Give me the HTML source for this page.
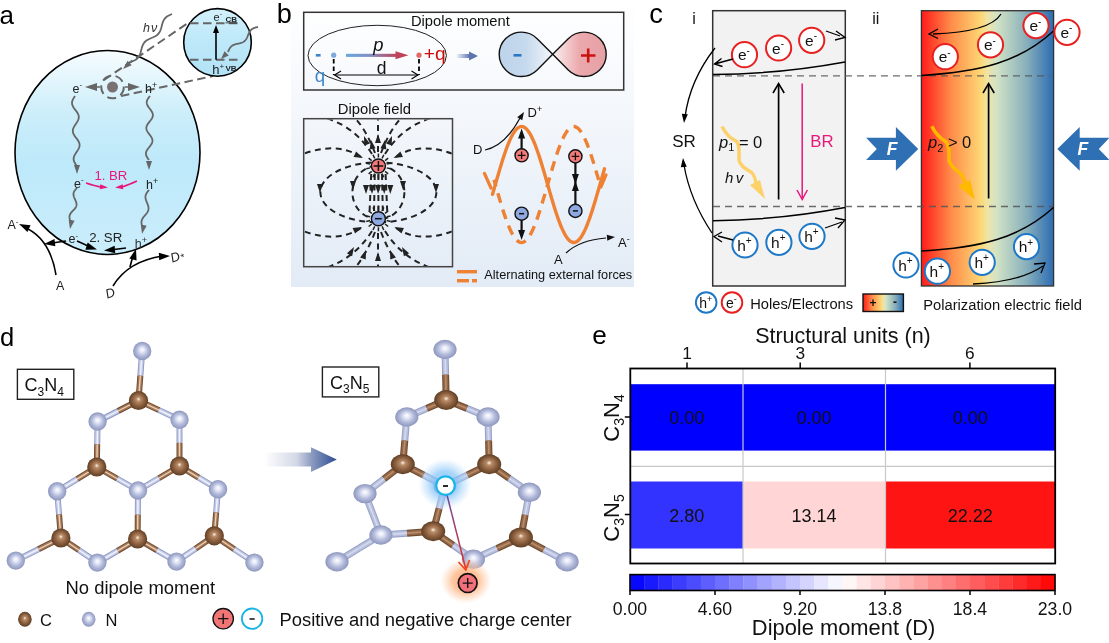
<!DOCTYPE html><html><head><meta charset="utf-8"><style>html,body{margin:0;padding:0;background:#fff;width:1109px;height:643px;overflow:hidden}svg{display:block;will-change:transform}text{font-family:"Liberation Sans", sans-serif}</style></head><body>
<svg width="1109" height="643" viewBox="0 0 1109 643">
<defs>
<linearGradient id="gA" x1="0" y1="0" x2="0" y2="1">
 <stop offset="0" stop-color="#f7fcfe"/><stop offset="0.3" stop-color="#cdeefa"/><stop offset="0.55" stop-color="#bde9fa"/><stop offset="1" stop-color="#cbedfb"/></linearGradient>
<linearGradient id="gInset" x1="0" y1="0" x2="0" y2="1">
 <stop offset="0" stop-color="#d2f0fb"/><stop offset="0.5" stop-color="#bde8f9"/><stop offset="1" stop-color="#b2e2f6"/></linearGradient>
<linearGradient id="gB" x1="0" y1="0" x2="0" y2="1">
 <stop offset="0" stop-color="#ffffff"/><stop offset="1" stop-color="#e2ebf6"/></linearGradient>
<linearGradient id="gP" x1="0" y1="0" x2="1" y2="0">
 <stop offset="0" stop-color="#6aa7dc"/><stop offset="0.45" stop-color="#7f8fc4"/><stop offset="1" stop-color="#c0425a"/></linearGradient>
<linearGradient id="gSmall" x1="0" y1="0" x2="1" y2="0">
 <stop offset="0" stop-color="#e8edf6"/><stop offset="1" stop-color="#5d74b0"/></linearGradient>
<linearGradient id="gLobeL" x1="0" y1="0" x2="1" y2="0">
 <stop offset="0" stop-color="#bcd3ea"/><stop offset="0.5" stop-color="#c6d9ed"/><stop offset="1" stop-color="#f2f6fb"/></linearGradient>
<linearGradient id="gLobeR" x1="0" y1="0" x2="1" y2="0">
 <stop offset="0" stop-color="#fbf0f0"/><stop offset="0.5" stop-color="#eba9ad"/><stop offset="1" stop-color="#e5a0a4"/></linearGradient>
<linearGradient id="gPol" x1="0" y1="0" x2="1" y2="0">
 <stop offset="0" stop-color="#ff1a1a"/><stop offset="0.22" stop-color="#ff8a48"/><stop offset="0.45" stop-color="#fdd775"/><stop offset="0.5" stop-color="#efe4a6"/><stop offset="0.57" stop-color="#d2e3c6"/><stop offset="0.8" stop-color="#86aebb"/><stop offset="1" stop-color="#2c6cb3"/></linearGradient>
<linearGradient id="gArr" gradientUnits="userSpaceOnUse" x1="447" y1="495" x2="465" y2="568">
 <stop offset="0" stop-color="#6a4aa0"/><stop offset="1" stop-color="#e0302a"/></linearGradient>
<linearGradient id="gBig" x1="0" y1="0" x2="1" y2="0">
 <stop offset="0" stop-color="#ffffff"/><stop offset="0.45" stop-color="#d3d8e6"/><stop offset="0.65" stop-color="#8d9cc0"/><stop offset="1" stop-color="#2c4d94"/></linearGradient>
<radialGradient id="gN" cx="0.5" cy="0.5" r="0.5" fx="0.5" fy="0.42">
 <stop offset="0" stop-color="#ffffff"/><stop offset="0.25" stop-color="#e4e8f6"/><stop offset="0.6" stop-color="#b4bcdc"/><stop offset="1" stop-color="#8d96bc"/></radialGradient>
<radialGradient id="gC" cx="0.5" cy="0.5" r="0.5" fx="0.5" fy="0.42">
 <stop offset="0" stop-color="#fff4e8"/><stop offset="0.22" stop-color="#b88c68"/><stop offset="0.6" stop-color="#8e6241"/><stop offset="1" stop-color="#5e3e24"/></radialGradient>
<radialGradient id="gGlowB" cx="0.5" cy="0.5" r="0.5">
 <stop offset="0" stop-color="#6fb8f8" stop-opacity="0.85"/><stop offset="0.5" stop-color="#86c4f8" stop-opacity="0.7"/><stop offset="0.8" stop-color="#b0d8fa" stop-opacity="0.35"/><stop offset="1" stop-color="#d8ecfd" stop-opacity="0"/></radialGradient>
<radialGradient id="gGlowO" cx="0.5" cy="0.5" r="0.5">
 <stop offset="0" stop-color="#ffa060" stop-opacity="0.9"/><stop offset="0.5" stop-color="#ffb27e" stop-opacity="0.75"/><stop offset="0.8" stop-color="#ffcfae" stop-opacity="0.4"/><stop offset="1" stop-color="#ffe6d6" stop-opacity="0"/></radialGradient>
</defs>
<text x="-0.5" y="23.8" font-size="26" fill="#000" text-anchor="start" >a</text>
<ellipse cx="107.5" cy="152.5" rx="92.5" ry="102" fill="url(#gA)" stroke="#000" stroke-width="1.6"/>
<path d="M104,80 L188,23" stroke="#666" stroke-width="2" stroke-dasharray="8.5,4.5" fill="none"/>
<path d="M121,96 L213,76" stroke="#666" stroke-width="2" stroke-dasharray="8.5,4.5" fill="none"/>
<circle cx="217.5" cy="42.4" r="33.8" fill="url(#gInset)" stroke="#000" stroke-width="1.6"/>
<path d="M190,23.3 L239,23.3 M190,59.8 L239,59.8" stroke="#666" stroke-width="2" stroke-dasharray="8.5,4.5" fill="none"/>
<line x1="216" y1="59.8" x2="216" y2="32" stroke="#000" stroke-width="1.6"/>
<polygon points="216,25 219,33 213,33" fill="#000"/>
<text x="213.5" y="20.5" font-size="11" fill="#222" text-anchor="start" >e<tspan font-size="7" dy="-4.5">-</tspan></text>
<text x="225.5" y="21.5" font-size="8" fill="#222" text-anchor="start" font-weight="bold" text-decoration="underline">CB</text>
<text x="212.3" y="73.5" font-size="13" fill="#222" text-anchor="start" >h<tspan font-size="8" dy="-5">+</tspan></text>
<text x="225.5" y="71" font-size="8" fill="#222" text-anchor="start" font-weight="bold">VB</text>
<path d="M258,27 L257.28,27.15 L256.56,27.31 L255.86,27.48 L255.17,27.67 L254.5,27.89 L253.86,28.13 L253.25,28.41 L252.66,28.73 L252.11,29.08 L251.59,29.48 L251.11,29.91 L250.66,30.39 L250.25,30.91 L249.86,31.47 L249.5,32.05 L249.17,32.67 L248.86,33.32 L248.56,33.98 L248.28,34.65 L248,35.33 L247.72,36.01 L247.44,36.69 L247.14,37.35 L246.83,37.99 L246.5,38.61 L246.14,39.2 L245.75,39.76 L245.34,40.27 L244.89,40.75 L244.41,41.19 L243.89,41.59 L243.34,41.94 L242.75,42.26 L242.14,42.53 L241.5,42.78 L240.83,42.99 L240.14,43.18 L239.44,43.36 L238.72,43.51 L238,43.67 L237.28,43.82 L236.56,43.98 L235.86,44.15 L235.17,44.34 L234.5,44.55 L233.86,44.8 L233.25,45.08 L232.66,45.39 L232.11,45.75 L231.59,46.14 L231.11,46.58 L230.66,47.06 L230.25,47.58 L229.86,48.13 L229.5,48.72 L229.17,49.34 L228.86,49.98 L228.56,50.64 L228.28,51.32 L228,52" stroke="#666" stroke-width="1.8" fill="none"/>
<polygon points="221,59 224.54,51.22 228.78,55.46" fill="#666"/>
<path d="M172,14 L170.92,14.46 L169.86,14.94 L168.83,15.45 L167.85,15.99 L166.94,16.59 L166.09,17.26 L165.33,17.99 L164.64,18.79 L164.04,19.66 L163.52,20.59 L163.07,21.59 L162.68,22.65 L162.34,23.74 L162.04,24.86 L161.75,26 L161.46,27.14 L161.16,28.26 L160.82,29.35 L160.43,30.41 L159.98,31.41 L159.46,32.34 L158.86,33.21 L158.17,34.01 L157.41,34.74 L156.56,35.41 L155.65,36.01 L154.67,36.55 L153.64,37.06 L152.58,37.54 L151.5,38 L150.42,38.46 L149.36,38.94 L148.33,39.45 L147.35,39.99 L146.44,40.59 L145.59,41.26 L144.83,41.99 L144.14,42.79 L143.54,43.66 L143.02,44.59 L142.57,45.59 L142.18,46.65 L141.84,47.74 L141.54,48.86 L141.25,50 L140.96,51.14 L140.66,52.26 L140.32,53.35 L139.93,54.41 L139.48,55.41 L138.96,56.34 L138.36,57.21 L137.67,58.01 L136.91,58.74 L136.06,59.41 L135.15,60.01 L134.17,60.55 L133.14,61.06 L132.08,61.54 L131,62" stroke="#666" stroke-width="1.8" fill="none"/>
<polygon points="123,69 127.64,60.73 131.68,65.17" fill="#666"/>
<text x="143" y="32" font-size="12.5" fill="#333" text-anchor="start" font-style="italic">h<tspan dx="1">ν</tspan></text>
<circle cx="112.5" cy="87" r="11.3" fill="none" stroke="#666" stroke-width="2" stroke-dasharray="9,5"/>
<circle cx="112.5" cy="87" r="5.5" fill="#7a7272"/>
<line x1="100" y1="87" x2="90" y2="87" stroke="#666" stroke-width="1.5"/>
<polygon points="85,87 97,83 97,91" fill="#666"/>
<line x1="125" y1="87" x2="135" y2="87" stroke="#666" stroke-width="1.5"/>
<polygon points="140,87 128,91 128,83" fill="#666"/>
<text x="72.5" y="92.8" font-size="12.5" fill="#222" text-anchor="start" >e<tspan font-size="8" dy="-5.5">-</tspan></text>
<text x="145" y="93" font-size="12.5" fill="#222" text-anchor="start" >h<tspan font-size="9" dy="-5">+</tspan></text>
<path d="M75,96 L74.21,97.19 L73.47,98.38 L72.84,99.56 L72.36,100.75 L72.08,101.92 L72,103.09 L72.14,104.25 L72.5,105.41 L73.04,106.56 L73.73,107.71 L74.54,108.86 L75.4,110 L76.26,111.14 L77.07,112.29 L77.76,113.44 L78.3,114.59 L78.66,115.75 L78.8,116.91 L78.72,118.08 L78.44,119.25 L77.96,120.44 L77.33,121.62 L76.59,122.81 L75.8,124 L75.01,125.19 L74.27,126.38 L73.64,127.56 L73.16,128.75 L72.88,129.92 L72.8,131.09 L72.94,132.25 L73.3,133.41 L73.84,134.56 L74.53,135.71 L75.34,136.86 L76.2,138 L77.06,139.14 L77.87,140.29 L78.56,141.44 L79.1,142.59 L79.46,143.75 L79.6,144.91 L79.52,146.08 L79.24,147.25 L78.76,148.44 L78.13,149.62 L77.39,150.81 L76.6,152 L75.81,153.19 L75.07,154.38 L74.44,155.56 L73.96,156.75 L73.68,157.92 L73.6,159.09 L73.74,160.25 L74.1,161.41 L74.64,162.56 L75.33,163.71 L76.14,164.86 L77,166" stroke="#666" stroke-width="1.8" fill="none"/>
<polygon points="77,174 74,165 80,165" fill="#666"/>
<path d="M150,96 L149.16,97.05 L148.37,98.11 L147.69,99.16 L147.16,100.22 L146.83,101.29 L146.7,102.35 L146.79,103.42 L147.1,104.49 L147.59,105.56 L148.23,106.64 L148.99,107.72 L149.8,108.8 L150.61,109.88 L151.37,110.96 L152.01,112.04 L152.5,113.11 L152.81,114.18 L152.9,115.25 L152.77,116.31 L152.44,117.38 L151.91,118.44 L151.23,119.49 L150.44,120.55 L149.6,121.6 L148.76,122.65 L147.97,123.71 L147.29,124.76 L146.76,125.82 L146.43,126.89 L146.3,127.95 L146.39,129.02 L146.7,130.09 L147.19,131.16 L147.83,132.24 L148.59,133.32 L149.4,134.4 L150.21,135.48 L150.97,136.56 L151.61,137.64 L152.1,138.71 L152.41,139.78 L152.5,140.85 L152.37,141.91 L152.04,142.98 L151.51,144.04 L150.83,145.09 L150.04,146.15 L149.2,147.2 L148.36,148.25 L147.57,149.31 L146.89,150.36 L146.36,151.42 L146.03,152.49 L145.9,153.55 L145.99,154.62 L146.3,155.69 L146.79,156.76 L147.43,157.84 L148.19,158.92 L149,160" stroke="#666" stroke-width="1.8" fill="none"/>
<polygon points="149,170 146,161 152,161" fill="#666"/>
<path d="M77,188 L76.51,188.5 L76.04,189 L75.58,189.5 L75.15,190.01 L74.76,190.53 L74.41,191.05 L74.11,191.58 L73.86,192.12 L73.67,192.67 L73.54,193.23 L73.47,193.8 L73.46,194.39 L73.51,194.98 L73.61,195.58 L73.76,196.19 L73.95,196.81 L74.18,197.44 L74.44,198.07 L74.71,198.7 L75,199.33 L75.29,199.97 L75.56,200.6 L75.82,201.23 L76.05,201.86 L76.24,202.47 L76.39,203.08 L76.49,203.69 L76.54,204.28 L76.53,204.86 L76.46,205.43 L76.33,206 L76.14,206.55 L75.89,207.09 L75.59,207.62 L75.24,208.14 L74.85,208.66 L74.42,209.16 L73.96,209.67 L73.49,210.17 L73,210.67 L72.51,211.17 L72.04,211.67 L71.58,212.17 L71.15,212.68 L70.76,213.19 L70.41,213.72 L70.11,214.25 L69.86,214.79 L69.67,215.34 L69.54,215.9 L69.47,216.47 L69.46,217.05 L69.51,217.65 L69.61,218.25 L69.76,218.86 L69.95,219.48 L70.18,220.1 L70.44,220.73 L70.71,221.37 L71,222" stroke="#666" stroke-width="1.8" fill="none"/>
<polygon points="70,229 68.66,219.61 74.56,220.68" fill="#666"/>
<path d="M149,190 L148.51,190.57 L148.04,191.15 L147.58,191.72 L147.15,192.3 L146.75,192.89 L146.4,193.48 L146.1,194.09 L145.85,194.7 L145.66,195.31 L145.53,195.94 L145.46,196.58 L145.45,197.23 L145.5,197.89 L145.6,198.55 L145.75,199.22 L145.95,199.9 L146.18,200.59 L146.44,201.28 L146.71,201.97 L147,202.67 L147.29,203.36 L147.56,204.05 L147.82,204.74 L148.05,205.43 L148.25,206.11 L148.4,206.78 L148.5,207.45 L148.55,208.1 L148.54,208.75 L148.47,209.39 L148.34,210.02 L148.15,210.64 L147.9,211.25 L147.6,211.85 L147.25,212.44 L146.85,213.03 L146.42,213.61 L145.96,214.19 L145.49,214.76 L145,215.33 L144.51,215.91 L144.04,216.48 L143.58,217.06 L143.15,217.64 L142.75,218.22 L142.4,218.82 L142.1,219.42 L141.85,220.03 L141.66,220.65 L141.53,221.28 L141.46,221.91 L141.45,222.56 L141.5,223.22 L141.6,223.88 L141.75,224.56 L141.95,225.24 L142.18,225.92 L142.44,226.61 L142.71,227.31 L143,228" stroke="#666" stroke-width="1.8" fill="none"/>
<polygon points="142,234 140.82,224.59 146.71,225.76" fill="#666"/>
<text x="74" y="187.5" font-size="12.5" fill="#222" text-anchor="start" >e<tspan font-size="8" dy="-5.5">-</tspan></text>
<text x="146" y="188.5" font-size="12.5" fill="#222" text-anchor="start" >h<tspan font-size="9" dy="-5">+</tspan></text>
<text x="94.51" y="180" font-size="13.15" fill="#e8177a" text-anchor="start" >1. BR</text>
<path d="M86,183 Q95,186 101,187" stroke="#e8177a" stroke-width="1.4" fill="none"/>
<polygon points="108,187.5 99.79,189.19 100.29,184.22" fill="#e8177a"/>
<path d="M137,181 Q128,185 122,187" stroke="#e8177a" stroke-width="1.4" fill="none"/>
<polygon points="115,187.5 122.71,184.22 123.21,189.19" fill="#e8177a"/>
<text x="68.5" y="243.2" font-size="12.5" fill="#222" text-anchor="start" >e<tspan font-size="8" dy="-5.5">-</tspan></text>
<text x="89.14" y="242.3" font-size="13.22" fill="#222" text-anchor="start" >2. SR</text>
<text x="134.8" y="248.3" font-size="12.5" fill="#333" text-anchor="start" >h<tspan font-size="9" dy="-5">+</tspan></text>
<path d="M66,241 L52,243" stroke="#000" stroke-width="1.6"/><polygon points="44,244 54.45,238.91 55.38,246.36" fill="#000"/>
<path d="M77,241 Q84,244 90,247" stroke="#000" stroke-width="1.6" fill="none"/><polygon points="97,249.5 85.38,249.74 87.65,242.59" fill="#000"/>
<path d="M126,248 L110,250" stroke="#000" stroke-width="1.6"/><polygon points="104,250.5 114.65,245.85 115.27,253.32" fill="#000"/>
<path d="M56,275 Q50,238 24,227" stroke="#000" stroke-width="1.6" fill="none"/><polygon points="19,224 30.57,225.14 27.46,231.97" fill="#000"/>
<text x="7.5" y="229" font-size="12.5" fill="#222" text-anchor="start" >A<tspan font-size="8" dy="-5">-</tspan></text>
<text x="56" y="290" font-size="12.5" fill="#222" text-anchor="start" >A</text>
<path d="M113,286 Q128,261 163,256" stroke="#000" stroke-width="1.6" fill="none"/><polygon points="170,256 159.17,260.2 158.85,252.71" fill="#000"/>
<path d="M130,267 Q132,258 135,252" stroke="#000" stroke-width="1.6" fill="none"/><polygon points="136,249 136.58,260.61 129.37,258.55" fill="#000"/>
<g transform="translate(112,297) rotate(-20)"><text x="-5" y="0" font-size="13" fill="#222" text-anchor="start" font-style="italic">D</text></g>
<g transform="translate(177,261) rotate(-20)"><text x="-5" y="0" font-size="13" fill="#222" text-anchor="start" font-style="italic">D</text><text x="5" y="1.5" font-size="10" fill="#222" text-anchor="start" >*</text></g>
<rect x="291" y="0" width="343" height="287" fill="url(#gB)"/>
<text x="276.84" y="22.9" font-size="27.11" fill="#000" text-anchor="start" >b</text>
<rect x="303.7" y="12.3" width="320" height="77.7" fill="none" stroke="#333" stroke-width="1.5"/>
<text x="410.92" y="26.4" font-size="14.71" fill="#111" text-anchor="start" >Dipole moment</text>
<ellipse cx="377.2" cy="55.5" rx="69.2" ry="30.2" fill="none" stroke="#222" stroke-width="1"/>
<rect x="315.8" y="54" width="4.8" height="2.6" fill="#3d86c8"/>
<circle cx="333.7" cy="55.2" r="2.6" fill="#7aaad8"/>
<circle cx="419" cy="55.2" r="2.6" fill="#e06a6a"/>
<rect x="346" y="53.8" width="51" height="3.1" fill="url(#gP)"/>
<polygon points="408.5,55.3 395.5,51.3 395.5,59.3" fill="#c0425a"/>
<text x="373.16" y="50.5" font-size="18.36" fill="#111" text-anchor="start"  font-style="italic">p</text>
<text x="423.84" y="60" font-size="19.12" fill="#cc0a0a" text-anchor="start" >+q</text>
<text x="314.85" y="81.5" font-size="18.67" fill="#3d86c8" text-anchor="start" >q</text>
<path d="M333.7,59 L333.7,75 M419,59 L419,75" stroke="#000" stroke-width="1.8" stroke-dasharray="4.5,3"/>
<line x1="334.5" y1="75" x2="418" y2="75" stroke="#000" stroke-width="1.1"/>
<path d="M341,71 L334.5,75 L341,79 M411.5,71 L418,75 L411.5,79" stroke="#000" stroke-width="1.1" fill="none"/>
<text x="376.8" y="74.2" font-size="17.5" fill="#111" text-anchor="start" >d</text>
<rect x="457" y="54" width="13" height="4" fill="url(#gSmall)"/>
<polygon points="478,56 469,51.5 469,60.5" fill="#5d74b0"/>
<path d="M552.7,54.3 L537.15,69.95 A22.2,22.2 0 1 1 537.15,38.65 Z" fill="url(#gLobeL)" stroke="#111" stroke-width="1.4"/>
<path d="M552.7,54.3 L568.25,69.95 A22.2,22.2 0 1 0 568.25,38.65 Z" fill="url(#gLobeR)" stroke="#111" stroke-width="1.4"/>
<rect x="513.5" y="54" width="8" height="2.6" fill="#2a78c4"/>
<path d="M581,55.5 L595.5,55.5 M588.2,48.5 L588.2,62.5" stroke="#cc1111" stroke-width="2.6"/>
<text x="337.71" y="113.7" font-size="14.81" fill="#111" text-anchor="start" >Dipole field</text>
<rect x="303.7" y="118.7" width="148.8" height="148" fill="none" stroke="#444" stroke-width="1.5"/>
<clipPath id="cpF"><rect x="304.5" y="119.5" width="147.2" height="146.4"/></clipPath>
<g clip-path="url(#cpF)" stroke="#222" stroke-width="2" fill="none" stroke-dasharray="6,4.5">
<ellipse cx="378.4" cy="192.35" rx="58" ry="30" />
<ellipse cx="378.4" cy="192.35" rx="26" ry="27" />
<path d="M361,157 C345,146 320,144 290,160" />
<path d="M396,157 C411,146 436,144 466,160" />
<path d="M361,228 C345,239 320,241 290,225" />
<path d="M396,228 C411,239 436,241 466,225" />
<path d="M378,152 L378,119" />
<path d="M372,154 C362,138 348,125 326,118" />
<path d="M385,154 C395,138 409,125 431,118" />
<path d="M375,153 C370,140 364,128 355,118" />
<path d="M381,153 C386,140 392,128 401,118" />
<path d="M378,233 L378,267" />
<path d="M372,231 C362,247 348,260 326,268" />
<path d="M385,231 C395,247 409,260 431,268" />
<path d="M375,232 C370,245 364,257 355,268" />
<path d="M381,232 C386,245 392,257 401,268" />
<path d="M371.2,174 L369.6,211" />
<path d="M374.8,174 L374,211" />
<path d="M378.4,174 L378.4,211" />
<path d="M382,174 L382.8,211" />
<path d="M385.6,174 L387.2,211" />
</g>
<path d="M386.69,167.89 L390.59,168.78 M385.05,171.3 L388.17,173.79 M382.09,173.66 L383.82,177.26 M378.4,174.5 L378.4,178.5 M374.71,173.66 L372.98,177.26 M371.75,171.3 L368.63,173.79 M370.11,167.89 L366.21,168.78 M370.11,164.11 L366.21,163.22 M371.75,160.7 L368.63,158.21 M374.71,158.34 L372.98,154.74 M378.4,157.5 L378.4,153.5 M382.09,158.34 L383.82,154.74 M385.05,160.7 L388.17,158.21 M386.69,164.11 L390.59,163.22 M386.69,220.59 L390.59,221.48 M385.05,224 L388.17,226.49 M382.09,226.36 L383.82,229.96 M378.4,227.2 L378.4,231.2 M374.71,226.36 L372.98,229.96 M371.75,224 L368.63,226.49 M370.11,220.59 L366.21,221.48 M370.11,216.81 L366.21,215.92 M371.75,213.4 L368.63,210.91 M374.71,211.04 L372.98,207.44 M378.4,210.2 L378.4,206.2 M382.09,211.04 L383.82,207.44 M385.05,213.4 L388.17,210.91 M386.69,216.81 L390.59,215.92" stroke="#222" stroke-width="1.5"/>
<polygon points="366,194 363,185 369,185" fill="#222"/>
<polygon points="372,194 369,185 375,185" fill="#222"/>
<polygon points="378.1,194 375.1,185 381.1,185" fill="#222"/>
<polygon points="384.2,194 381.2,185 387.2,185" fill="#222"/>
<polygon points="390.3,194 387.3,185 393.3,185" fill="#222"/>
<polygon points="320,193 317,184 323,184" fill="#222"/>
<polygon points="436,193 433,184 439,184" fill="#222"/>
<polygon points="353,190 350,181 356,181" fill="#222"/>
<polygon points="403,190 400,181 406,181" fill="#222"/>
<polygon points="363,158 353.58,156.92 356.11,151.48" fill="#222"/>
<polygon points="393.5,158 400.39,151.48 402.92,156.92" fill="#222"/>
<polygon points="362,227 355.11,233.52 352.58,228.08" fill="#222"/>
<polygon points="394.5,227 403.92,228.08 401.39,233.52" fill="#222"/>
<polygon points="364,136 369.9,143.43 364.26,145.48" fill="#222"/>
<polygon points="378,134 381,143 375,143" fill="#222"/>
<polygon points="392,136 391.74,145.48 386.1,143.43" fill="#222"/>
<polygon points="371,140 375.52,148.34 369.61,149.38" fill="#222"/>
<polygon points="385,140 386.39,149.38 380.48,148.34" fill="#222"/>
<polygon points="366,250 365.74,259.48 360.1,257.43" fill="#222"/>
<polygon points="378,252 381,261 375,261" fill="#222"/>
<polygon points="390,250 395.9,257.43 390.26,259.48" fill="#222"/>
<polygon points="354,247 352.1,256.29 346.9,253.29" fill="#222"/>
<polygon points="402,247 409.1,253.29 403.9,256.29" fill="#222"/>
<circle cx="378.4" cy="166" r="7" fill="#f47979" stroke="#111" stroke-width="1.4"/>
<path d="M373.5,166 L383.3,166 M378.4,161 L378.4,171" stroke="#111" stroke-width="1.5"/>
<circle cx="378.4" cy="218.7" r="7" fill="#8ea8e0" stroke="#111" stroke-width="1.4"/>
<path d="M375,218.7 L381.8,218.7" stroke="#111" stroke-width="1.5"/>
<path d="M492.5,194.38 L493.62,190.52 L494.74,186.62 L495.86,182.72 L496.98,178.83 L498.1,174.96 L499.22,171.14 L500.34,167.37 L501.46,163.69 L502.58,160.1 L503.7,156.61 L504.82,153.26 L505.94,150.04 L507.06,146.98 L508.18,144.1 L509.3,141.39 L510.42,138.88 L511.54,136.57 L512.66,134.49 L513.78,132.63 L514.9,131 L516.02,129.61 L517.14,128.48 L518.26,127.59 L519.38,126.97 L520.5,126.6 L521.62,126.5 L522.74,126.66 L523.86,127.08 L524.98,127.76 L526.1,128.7 L527.22,129.89 L528.34,131.33 L529.46,133 L530.58,134.92 L531.7,137.05 L532.82,139.4 L533.94,141.95 L535.06,144.7 L536.18,147.63 L537.3,150.72 L538.42,153.97 L539.54,157.35 L540.66,160.86 L541.78,164.47 L542.9,168.17 L544.02,171.95 L545.14,175.79 L546.26,179.66 L547.38,183.56 L548.5,187.46 L549.62,191.35 L550.74,195.2 L551.86,199.01 L552.98,202.75 L554.1,206.41 L555.22,209.97 L556.34,213.42 L557.46,216.73 L558.58,219.9 L559.7,222.91 L560.82,225.75 L561.94,228.39 L563.06,230.84 L564.18,233.08 L565.3,235.1 L566.42,236.89 L567.54,238.45 L568.66,239.76 L569.78,240.82 L570.9,241.62 L572.02,242.17 L573.14,242.45 L574.26,242.48 L575.38,242.24 L576.5,241.74 L577.62,240.98 L578.74,239.97 L579.86,238.7 L580.98,237.19 L582.1,235.44 L583.22,233.46 L584.34,231.26 L585.46,228.85 L586.58,226.23 L587.7,223.43 L588.82,220.45 L589.94,217.31 L591.06,214.02 L592.18,210.6 L593.3,207.06 L594.42,203.41 L595.54,199.69 L596.66,195.89 L597.78,192.04 L598.9,188.16 L600.02,184.26 L601.14,180.36 L602.26,176.48 L603.38,172.63 L604.5,168.84" stroke="#ee8133" stroke-width="3.4" fill="none" stroke-linecap="round"/>
<path d="M494,179.8 L495.06,183.49 L496.12,187.18 L497.18,190.86 L498.24,194.52 L499.3,198.13 L500.36,201.69 L501.42,205.18 L502.48,208.59 L503.54,211.9 L504.6,215.09 L505.66,218.17 L506.72,221.1 L507.78,223.89 L508.84,226.52 L509.9,228.98 L510.96,231.26 L512.02,233.35 L513.08,235.24 L514.14,236.92 L515.2,238.4 L516.26,239.65 L517.32,240.68 L518.38,241.48 L519.44,242.06 L520.5,242.4 L521.56,242.5 L522.62,242.37 L523.68,242 L524.74,241.41 L525.8,240.58 L526.86,239.52 L527.92,238.24 L528.98,236.74 L530.04,235.03 L531.1,233.12 L532.16,231.01 L533.22,228.71 L534.28,226.23 L535.34,223.58 L536.4,220.78 L537.46,217.83 L538.52,214.74 L539.58,211.53 L540.64,208.21 L541.7,204.79 L542.76,201.29 L543.82,197.73 L544.88,194.11 L545.94,190.45 L547,186.76 L548.06,183.07 L549.12,179.39 L550.18,175.72 L551.24,172.09 L552.3,168.51 L553.36,164.99 L554.42,161.56 L555.48,158.22 L556.54,154.98 L557.6,151.86 L558.66,148.88 L559.72,146.04 L560.78,143.35 L561.84,140.83 L562.9,138.49 L563.96,136.34 L565.02,134.38 L566.08,132.63 L567.14,131.08 L568.2,129.75 L569.26,128.64 L570.32,127.76 L571.38,127.11 L572.44,126.69 L573.5,126.51 L574.56,126.56 L575.62,126.85 L576.68,127.37 L577.74,128.12 L578.8,129.1 L579.86,130.3 L580.92,131.72 L581.98,133.36 L583.04,135.21 L584.1,137.25 L585.16,139.49 L586.22,141.91 L587.28,144.5 L588.34,147.25 L589.4,150.16 L590.46,153.2 L591.52,156.37 L592.58,159.65 L593.64,163.04 L594.7,166.51 L595.76,170.06 L596.82,173.66 L597.88,177.31 L598.94,180.98 L600,184.67" stroke="#ee8133" stroke-width="3.4" fill="none" stroke-dasharray="10,7" stroke-dashoffset="3"/>
<path d="M484.5,173.5 L491,188 M601,187 L606,175" stroke="#ee8133" stroke-width="3.2" stroke-linecap="round"/>
<line x1="521.6" y1="149" x2="521.6" y2="136" stroke="#111" stroke-width="2.2"/><polygon points="521.6,128.5 525.1,138.5 518.1,138.5" fill="#111"/>
<line x1="521.6" y1="220" x2="521.6" y2="232" stroke="#111" stroke-width="2.2"/><polygon points="521.6,240 518.1,230 525.1,230" fill="#111"/>
<line x1="575.4" y1="162" x2="575.4" y2="205" stroke="#111" stroke-width="2.2"/><polygon points="575.4,184 571.9,174 578.9,174" fill="#111"/><polygon points="575.4,181 578.9,191 571.9,191" fill="#111"/>
<circle cx="521.6" cy="155.3" r="6.6" fill="#f47979" stroke="#111" stroke-width="1.4"/><path d="M517.8,155.3 L525.4,155.3 M521.6,151.5 L521.6,159.1" stroke="#111" stroke-width="1.3"/>
<circle cx="521.6" cy="213.7" r="6.6" fill="#8ea8e0" stroke="#111" stroke-width="1.4"/><path d="M519.1,213.7 L524.1,213.7" stroke="#111" stroke-width="1.5"/>
<circle cx="575.4" cy="156.4" r="6.6" fill="#f47979" stroke="#111" stroke-width="1.4"/><path d="M571.6,156.4 L579.2,156.4 M575.4,152.6 L575.4,160.2" stroke="#111" stroke-width="1.3"/>
<circle cx="575.4" cy="210.9" r="6.6" fill="#8ea8e0" stroke="#111" stroke-width="1.4"/><path d="M572.9,210.9 L577.9,210.9" stroke="#111" stroke-width="1.5"/>
<text x="473" y="153.5" font-size="13" fill="#111" text-anchor="start" >D</text>
<text x="527.5" y="116.5" font-size="13" fill="#111" text-anchor="start" >D<tspan font-size="9" dy="-5">+</tspan></text>
<path d="M485,150 Q505,146 520,118" stroke="#111" stroke-width="1.2" fill="none"/><polygon points="524,112 522.24,120.36 517.17,117.14" fill="#111"/>
<text x="554" y="264" font-size="13" fill="#111" text-anchor="start" >A</text>
<text x="618" y="246.5" font-size="13" fill="#111" text-anchor="start" >A<tspan font-size="9" dy="-5">-</tspan></text>
<path d="M566,253 Q580,240 606,238" stroke="#111" stroke-width="1.2" fill="none"/><polygon points="615,237 607.3,240.71 606.76,234.74" fill="#111"/>
<rect x="457" y="270" width="20" height="3.4" fill="#ee8133"/>
<rect x="457" y="279" width="12" height="3.4" fill="#ee8133"/><rect x="472" y="279" width="5" height="3.4" fill="#ee8133"/>
<text x="484.3" y="278.8" font-size="12.74" fill="#111" text-anchor="start" >Alternating external forces</text>
<text x="649.21" y="23.2" font-size="27.36" fill="#000" text-anchor="start" >c</text>
<text x="692.3" y="23.8" font-size="16" fill="#111" text-anchor="start" >i</text>
<text x="872.3" y="23.8" font-size="16" fill="#111" text-anchor="start" >ii</text>
<rect x="712.7" y="10.7" width="132.6" height="275.3" fill="#f2f2f2" stroke="#333" stroke-width="1.5"/>
<rect x="921.4" y="10.7" width="132.2" height="275.3" fill="url(#gPol)" stroke="#333" stroke-width="1.3"/>
<path d="M713,75.9 L1050,75.9 M713,206.5 L1053,206.5" stroke="#555" stroke-width="1.3" stroke-dasharray="7,5" opacity="0.85"/>
<path d="M713,74.6 Q780,74 845,62" stroke="#000" stroke-width="1.5" fill="none"/>
<path d="M713,220.7 Q780,220 845,207.5" stroke="#000" stroke-width="1.5" fill="none"/>
<path d="M921.5,75.5 C980,72 1020,62 1053.5,31" stroke="#000" stroke-width="1.5" fill="none"/>
<path d="M921.5,251 C980,248 1020,238 1053.5,207.5" stroke="#000" stroke-width="1.5" fill="none"/>
<circle cx="744.5" cy="54.7" r="12.6" fill="#fff" stroke="#e8201f" stroke-width="2"/><text x="737.9" y="60.2" font-size="15.5" fill="#111" text-anchor="start" >e<tspan font-size="10" dy="-6.5">-</tspan></text>
<circle cx="778.6" cy="48" r="12.6" fill="#fff" stroke="#e8201f" stroke-width="2"/><text x="772" y="53.5" font-size="15.5" fill="#111" text-anchor="start" >e<tspan font-size="10" dy="-6.5">-</tspan></text>
<circle cx="811.7" cy="40.3" r="12.6" fill="#fff" stroke="#e8201f" stroke-width="2"/><text x="805.1" y="45.8" font-size="15.5" fill="#111" text-anchor="start" >e<tspan font-size="10" dy="-6.5">-</tspan></text>
<circle cx="945.3" cy="56.7" r="12.6" fill="#fff" stroke="#e8201f" stroke-width="2"/><text x="938.7" y="62.2" font-size="15.5" fill="#111" text-anchor="start" >e<tspan font-size="10" dy="-6.5">-</tspan></text>
<circle cx="990.5" cy="44.8" r="12.6" fill="#fff" stroke="#e8201f" stroke-width="2"/><text x="983.9" y="50.3" font-size="15.5" fill="#111" text-anchor="start" >e<tspan font-size="10" dy="-6.5">-</tspan></text>
<circle cx="1036" cy="25.6" r="12.6" fill="#fff" stroke="#e8201f" stroke-width="2"/><text x="1029.4" y="31.1" font-size="15.5" fill="#111" text-anchor="start" >e<tspan font-size="10" dy="-6.5">-</tspan></text>
<circle cx="1067" cy="32.3" r="12.6" fill="#fff" stroke="#e8201f" stroke-width="2"/><text x="1060.4" y="37.8" font-size="15.5" fill="#111" text-anchor="start" >e<tspan font-size="10" dy="-6.5">-</tspan></text>
<circle cx="745" cy="245" r="12.6" fill="#fff" stroke="#1d78c8" stroke-width="2"/><text x="737.2" y="250.5" font-size="15.5" fill="#111" text-anchor="start" >h<tspan font-size="10" dy="-6.5">+</tspan></text>
<circle cx="778.9" cy="242.4" r="12.6" fill="#fff" stroke="#1d78c8" stroke-width="2"/><text x="771.1" y="247.9" font-size="15.5" fill="#111" text-anchor="start" >h<tspan font-size="10" dy="-6.5">+</tspan></text>
<circle cx="812" cy="236.3" r="12.6" fill="#fff" stroke="#1d78c8" stroke-width="2"/><text x="804.2" y="241.8" font-size="15.5" fill="#111" text-anchor="start" >h<tspan font-size="10" dy="-6.5">+</tspan></text>
<circle cx="906" cy="265" r="12.6" fill="#fff" stroke="#1d78c8" stroke-width="2"/><text x="898.2" y="270.5" font-size="15.5" fill="#111" text-anchor="start" >h<tspan font-size="10" dy="-6.5">+</tspan></text>
<circle cx="937.4" cy="271.2" r="12.6" fill="#fff" stroke="#1d78c8" stroke-width="2"/><text x="929.6" y="276.7" font-size="15.5" fill="#111" text-anchor="start" >h<tspan font-size="10" dy="-6.5">+</tspan></text>
<circle cx="982.2" cy="262.3" r="12.6" fill="#fff" stroke="#1d78c8" stroke-width="2"/><text x="974.4" y="267.8" font-size="15.5" fill="#111" text-anchor="start" >h<tspan font-size="10" dy="-6.5">+</tspan></text>
<circle cx="1026.5" cy="246.6" r="12.6" fill="#fff" stroke="#1d78c8" stroke-width="2"/><text x="1018.7" y="252.1" font-size="15.5" fill="#111" text-anchor="start" >h<tspan font-size="10" dy="-6.5">+</tspan></text>
<path d="M733,59 L714.5,64 M721.5,58.5 L714.5,64 L722.5,66.5" stroke="#000" stroke-width="1.4" fill="none"/>
<path d="M826,31 L840,36" stroke="#000" stroke-width="1.3" fill="none"/><path d="M836,31 L845,37.5 L835,40" stroke="#000" stroke-width="1.3" fill="none"/>
<path d="M733,240 L718,236" stroke="#000" stroke-width="1.3"/><path d="M722,232 L714,236.5 L722,242" stroke="#000" stroke-width="1.3" fill="none"/>
<path d="M825,228 L842,222" stroke="#000" stroke-width="1.3" fill="none"/><path d="M835,218 L845,220 L838,228" stroke="#000" stroke-width="1.3" fill="none"/>
<path d="M715,48 Q690,80 685,117" stroke="#000" stroke-width="1.3" fill="none"/><polygon points="684,123 681.83,113.77 687.8,114.31" fill="#000"/>
<path d="M712,233 Q690,200 684,165" stroke="#000" stroke-width="1.3" fill="none"/><polygon points="683,158 686.74,166.72 680.76,167.22" fill="#000"/>
<text x="672.14" y="147.2" font-size="16.99" fill="#111" text-anchor="start" >SR</text>
<line x1="778.6" y1="199.5" x2="778.6" y2="84" stroke="#000" stroke-width="1.7"/><path d="M773,93 L778.6,83.5 L784.2,93" stroke="#000" stroke-width="1.6" fill="none"/>
<line x1="802.2" y1="83.5" x2="802.2" y2="199" stroke="#e8177a" stroke-width="1.5"/><path d="M797,190 L802.2,199.5 L807.4,190" stroke="#e8177a" stroke-width="1.5" fill="none"/>
<text x="810.36" y="147.2" font-size="16.75" fill="#e8177a" text-anchor="start" >BR</text>
<line x1="988.6" y1="198.5" x2="988.6" y2="84" stroke="#000" stroke-width="1.7"/><path d="M983,93 L988.6,83.5 L994.2,93" stroke="#000" stroke-width="1.6" fill="none"/>
<path d="M722,126.5 C726,134 731,139 736,141 C740,144 739,152 739,160 C740,166 746,169 751,172 C756,176 756,183 757,189" stroke="#fdd16a" stroke-width="3.5" fill="none"/>
<polygon points="765,199 750,185 760,180" fill="#fdd16a"/>
<text x="719" y="147.8" font-size="16.5" fill="#111" text-anchor="start" ><tspan font-style="italic">p</tspan><tspan font-size="11" dy="3.5">1</tspan><tspan dy="-3.5"> = 0</tspan></text>
<text x="725" y="183.2" font-size="15" fill="#111" text-anchor="start" font-style="italic">h<tspan dx="2.5">v</tspan></text>
<path d="M931.9,126.3 C935,133 940,138 945,141 C950,145 949,153 949,160 C950,167 957,170 961,174 C965,179 965,184 966,189" stroke="#ffba00" stroke-width="3.5" fill="none"/>
<polygon points="975,199.4 958,186 970,180" fill="#ffba00"/>
<text x="928" y="148.1" font-size="16.5" fill="#111" text-anchor="start" ><tspan font-style="italic">p</tspan><tspan font-size="11" dy="3.5">2</tspan><tspan dy="-3.5"> &gt; 0</tspan></text>
<path d="M1001,14 Q990,32 933,34" stroke="#000" stroke-width="1.3" fill="none"/><path d="M938,29 L929,34 L938,38.5" stroke="#000" stroke-width="1.3" fill="none"/>
<path d="M973,284 Q1020,282 1043,266" stroke="#000" stroke-width="1.3" fill="none"/><path d="M1034,264 L1045,263 L1041,273" stroke="#000" stroke-width="1.3" fill="none"/>
<polygon points="866.1,137.7 895.9,137.7 895.9,127 918.3,148.9 895.9,170.8 895.9,160.1 866.1,160.1 876.8,148.9" fill="#2f70b5"/>
<text x="886.8" y="155.2" font-size="17.5" fill="#fff" text-anchor="start" font-style="italic" font-weight="bold">F</text>
<polygon points="1109.5,137.7 1079.7,137.7 1079.7,127 1057.3,148.9 1079.7,170.8 1079.7,160.1 1109.5,160.1 1098.8,148.9" fill="#2f70b5"/>
<text x="1077.5" y="155.2" font-size="17.5" fill="#fff" text-anchor="start" font-style="italic" font-weight="bold">F</text>
<circle cx="706.2" cy="302.5" r="10.3" fill="#fff" stroke="#1d78c8" stroke-width="1.9"/>
<text x="699.3" y="307.5" font-size="14" fill="#111" text-anchor="start" >h<tspan font-size="9" dy="-5.5">+</tspan></text>
<circle cx="732" cy="302.5" r="10.3" fill="#fff" stroke="#e8201f" stroke-width="1.9"/>
<text x="726" y="307.5" font-size="14" fill="#111" text-anchor="start" >e<tspan font-size="9" dy="-5.5">-</tspan></text>
<text x="750.22" y="308.8" font-size="14.69" fill="#111" text-anchor="start" >Holes/Electrons</text>
<rect x="863" y="294" width="40.4" height="17.5" fill="url(#gPol)" stroke="#111" stroke-width="1.4"/>
<text x="869.5" y="307" font-size="12" fill="#111" text-anchor="start" font-weight="bold">+</text>
<text x="893" y="306" font-size="12" fill="#111" text-anchor="start" font-weight="bold">-</text>
<text x="923.22" y="309.8" font-size="14.72" fill="#111" text-anchor="start" >Polarization electric field</text>
<text x="-0.12" y="345.9" font-size="25.56" fill="#000" text-anchor="start" >d</text>
<line x1="142.2" y1="351" x2="140.35" y2="375.75" stroke="#8f98c0" stroke-width="6"/><line x1="142.2" y1="351" x2="140.35" y2="375.75" stroke="#c3cae8" stroke-width="4.2"/><line x1="142.2" y1="351" x2="140.35" y2="375.75" stroke="#f2f4fc" stroke-width="1.38"/><line x1="140.35" y1="375.75" x2="138.5" y2="400.5" stroke="#6e4a2e" stroke-width="6"/><line x1="140.35" y1="375.75" x2="138.5" y2="400.5" stroke="#a47654" stroke-width="4.2"/><line x1="140.35" y1="375.75" x2="138.5" y2="400.5" stroke="#e8d2bc" stroke-width="1.38"/><line x1="138.5" y1="400.5" x2="118.05" y2="411" stroke="#6e4a2e" stroke-width="6"/><line x1="138.5" y1="400.5" x2="118.05" y2="411" stroke="#a47654" stroke-width="4.2"/><line x1="138.5" y1="400.5" x2="118.05" y2="411" stroke="#e8d2bc" stroke-width="1.38"/><line x1="118.05" y1="411" x2="97.6" y2="421.5" stroke="#8f98c0" stroke-width="6"/><line x1="118.05" y1="411" x2="97.6" y2="421.5" stroke="#c3cae8" stroke-width="4.2"/><line x1="118.05" y1="411" x2="97.6" y2="421.5" stroke="#f2f4fc" stroke-width="1.38"/><line x1="138.5" y1="400.5" x2="159" y2="410.15" stroke="#6e4a2e" stroke-width="6"/><line x1="138.5" y1="400.5" x2="159" y2="410.15" stroke="#a47654" stroke-width="4.2"/><line x1="138.5" y1="400.5" x2="159" y2="410.15" stroke="#e8d2bc" stroke-width="1.38"/><line x1="159" y1="410.15" x2="179.5" y2="419.8" stroke="#8f98c0" stroke-width="6"/><line x1="159" y1="410.15" x2="179.5" y2="419.8" stroke="#c3cae8" stroke-width="4.2"/><line x1="159" y1="410.15" x2="179.5" y2="419.8" stroke="#f2f4fc" stroke-width="1.38"/><line x1="97.6" y1="421.5" x2="97.2" y2="444.25" stroke="#8f98c0" stroke-width="6"/><line x1="97.6" y1="421.5" x2="97.2" y2="444.25" stroke="#c3cae8" stroke-width="4.2"/><line x1="97.6" y1="421.5" x2="97.2" y2="444.25" stroke="#f2f4fc" stroke-width="1.38"/><line x1="97.2" y1="444.25" x2="96.8" y2="467" stroke="#6e4a2e" stroke-width="6"/><line x1="97.2" y1="444.25" x2="96.8" y2="467" stroke="#a47654" stroke-width="4.2"/><line x1="97.2" y1="444.25" x2="96.8" y2="467" stroke="#e8d2bc" stroke-width="1.38"/><line x1="179.5" y1="419.8" x2="179.5" y2="442.9" stroke="#8f98c0" stroke-width="6"/><line x1="179.5" y1="419.8" x2="179.5" y2="442.9" stroke="#c3cae8" stroke-width="4.2"/><line x1="179.5" y1="419.8" x2="179.5" y2="442.9" stroke="#f2f4fc" stroke-width="1.38"/><line x1="179.5" y1="442.9" x2="179.5" y2="466" stroke="#6e4a2e" stroke-width="6"/><line x1="179.5" y1="442.9" x2="179.5" y2="466" stroke="#a47654" stroke-width="4.2"/><line x1="179.5" y1="442.9" x2="179.5" y2="466" stroke="#e8d2bc" stroke-width="1.38"/><line x1="96.8" y1="467" x2="117.4" y2="478.75" stroke="#6e4a2e" stroke-width="6"/><line x1="96.8" y1="467" x2="117.4" y2="478.75" stroke="#a47654" stroke-width="4.2"/><line x1="96.8" y1="467" x2="117.4" y2="478.75" stroke="#e8d2bc" stroke-width="1.38"/><line x1="117.4" y1="478.75" x2="138" y2="490.5" stroke="#8f98c0" stroke-width="6"/><line x1="117.4" y1="478.75" x2="138" y2="490.5" stroke="#c3cae8" stroke-width="4.2"/><line x1="117.4" y1="478.75" x2="138" y2="490.5" stroke="#f2f4fc" stroke-width="1.38"/><line x1="179.5" y1="466" x2="158.75" y2="478.25" stroke="#6e4a2e" stroke-width="6"/><line x1="179.5" y1="466" x2="158.75" y2="478.25" stroke="#a47654" stroke-width="4.2"/><line x1="179.5" y1="466" x2="158.75" y2="478.25" stroke="#e8d2bc" stroke-width="1.38"/><line x1="158.75" y1="478.25" x2="138" y2="490.5" stroke="#8f98c0" stroke-width="6"/><line x1="158.75" y1="478.25" x2="138" y2="490.5" stroke="#c3cae8" stroke-width="4.2"/><line x1="158.75" y1="478.25" x2="138" y2="490.5" stroke="#f2f4fc" stroke-width="1.38"/><line x1="96.8" y1="467" x2="77" y2="479.1" stroke="#6e4a2e" stroke-width="6"/><line x1="96.8" y1="467" x2="77" y2="479.1" stroke="#a47654" stroke-width="4.2"/><line x1="96.8" y1="467" x2="77" y2="479.1" stroke="#e8d2bc" stroke-width="1.38"/><line x1="77" y1="479.1" x2="57.2" y2="491.2" stroke="#8f98c0" stroke-width="6"/><line x1="77" y1="479.1" x2="57.2" y2="491.2" stroke="#c3cae8" stroke-width="4.2"/><line x1="77" y1="479.1" x2="57.2" y2="491.2" stroke="#f2f4fc" stroke-width="1.38"/><line x1="179.5" y1="466" x2="198.75" y2="477.65" stroke="#6e4a2e" stroke-width="6"/><line x1="179.5" y1="466" x2="198.75" y2="477.65" stroke="#a47654" stroke-width="4.2"/><line x1="179.5" y1="466" x2="198.75" y2="477.65" stroke="#e8d2bc" stroke-width="1.38"/><line x1="198.75" y1="477.65" x2="218" y2="489.3" stroke="#8f98c0" stroke-width="6"/><line x1="198.75" y1="477.65" x2="218" y2="489.3" stroke="#c3cae8" stroke-width="4.2"/><line x1="198.75" y1="477.65" x2="218" y2="489.3" stroke="#f2f4fc" stroke-width="1.38"/><line x1="138" y1="490.5" x2="137.8" y2="514.75" stroke="#8f98c0" stroke-width="6"/><line x1="138" y1="490.5" x2="137.8" y2="514.75" stroke="#c3cae8" stroke-width="4.2"/><line x1="138" y1="490.5" x2="137.8" y2="514.75" stroke="#f2f4fc" stroke-width="1.38"/><line x1="137.8" y1="514.75" x2="137.6" y2="539" stroke="#6e4a2e" stroke-width="6"/><line x1="137.8" y1="514.75" x2="137.6" y2="539" stroke="#a47654" stroke-width="4.2"/><line x1="137.8" y1="514.75" x2="137.6" y2="539" stroke="#e8d2bc" stroke-width="1.38"/><line x1="57.2" y1="491.2" x2="59.05" y2="514.6" stroke="#8f98c0" stroke-width="6"/><line x1="57.2" y1="491.2" x2="59.05" y2="514.6" stroke="#c3cae8" stroke-width="4.2"/><line x1="57.2" y1="491.2" x2="59.05" y2="514.6" stroke="#f2f4fc" stroke-width="1.38"/><line x1="59.05" y1="514.6" x2="60.9" y2="538" stroke="#6e4a2e" stroke-width="6"/><line x1="59.05" y1="514.6" x2="60.9" y2="538" stroke="#a47654" stroke-width="4.2"/><line x1="59.05" y1="514.6" x2="60.9" y2="538" stroke="#e8d2bc" stroke-width="1.38"/><line x1="218" y1="489.3" x2="216.15" y2="512.55" stroke="#8f98c0" stroke-width="6"/><line x1="218" y1="489.3" x2="216.15" y2="512.55" stroke="#c3cae8" stroke-width="4.2"/><line x1="218" y1="489.3" x2="216.15" y2="512.55" stroke="#f2f4fc" stroke-width="1.38"/><line x1="216.15" y1="512.55" x2="214.3" y2="535.8" stroke="#6e4a2e" stroke-width="6"/><line x1="216.15" y1="512.55" x2="214.3" y2="535.8" stroke="#a47654" stroke-width="4.2"/><line x1="216.15" y1="512.55" x2="214.3" y2="535.8" stroke="#e8d2bc" stroke-width="1.38"/><line x1="60.9" y1="538" x2="38.35" y2="549.3" stroke="#6e4a2e" stroke-width="6"/><line x1="60.9" y1="538" x2="38.35" y2="549.3" stroke="#a47654" stroke-width="4.2"/><line x1="60.9" y1="538" x2="38.35" y2="549.3" stroke="#e8d2bc" stroke-width="1.38"/><line x1="38.35" y1="549.3" x2="15.8" y2="560.6" stroke="#8f98c0" stroke-width="6"/><line x1="38.35" y1="549.3" x2="15.8" y2="560.6" stroke="#c3cae8" stroke-width="4.2"/><line x1="38.35" y1="549.3" x2="15.8" y2="560.6" stroke="#f2f4fc" stroke-width="1.38"/><line x1="60.9" y1="538" x2="79.15" y2="550.3" stroke="#6e4a2e" stroke-width="6"/><line x1="60.9" y1="538" x2="79.15" y2="550.3" stroke="#a47654" stroke-width="4.2"/><line x1="60.9" y1="538" x2="79.15" y2="550.3" stroke="#e8d2bc" stroke-width="1.38"/><line x1="79.15" y1="550.3" x2="97.4" y2="562.6" stroke="#8f98c0" stroke-width="6"/><line x1="79.15" y1="550.3" x2="97.4" y2="562.6" stroke="#c3cae8" stroke-width="4.2"/><line x1="79.15" y1="550.3" x2="97.4" y2="562.6" stroke="#f2f4fc" stroke-width="1.38"/><line x1="137.6" y1="539" x2="117.5" y2="550.8" stroke="#6e4a2e" stroke-width="6"/><line x1="137.6" y1="539" x2="117.5" y2="550.8" stroke="#a47654" stroke-width="4.2"/><line x1="137.6" y1="539" x2="117.5" y2="550.8" stroke="#e8d2bc" stroke-width="1.38"/><line x1="117.5" y1="550.8" x2="97.4" y2="562.6" stroke="#8f98c0" stroke-width="6"/><line x1="117.5" y1="550.8" x2="97.4" y2="562.6" stroke="#c3cae8" stroke-width="4.2"/><line x1="117.5" y1="550.8" x2="97.4" y2="562.6" stroke="#f2f4fc" stroke-width="1.38"/><line x1="137.6" y1="539" x2="157.05" y2="550.3" stroke="#6e4a2e" stroke-width="6"/><line x1="137.6" y1="539" x2="157.05" y2="550.3" stroke="#a47654" stroke-width="4.2"/><line x1="137.6" y1="539" x2="157.05" y2="550.3" stroke="#e8d2bc" stroke-width="1.38"/><line x1="157.05" y1="550.3" x2="176.5" y2="561.6" stroke="#8f98c0" stroke-width="6"/><line x1="157.05" y1="550.3" x2="176.5" y2="561.6" stroke="#c3cae8" stroke-width="4.2"/><line x1="157.05" y1="550.3" x2="176.5" y2="561.6" stroke="#f2f4fc" stroke-width="1.38"/><line x1="214.3" y1="535.8" x2="195.4" y2="548.7" stroke="#6e4a2e" stroke-width="6"/><line x1="214.3" y1="535.8" x2="195.4" y2="548.7" stroke="#a47654" stroke-width="4.2"/><line x1="214.3" y1="535.8" x2="195.4" y2="548.7" stroke="#e8d2bc" stroke-width="1.38"/><line x1="195.4" y1="548.7" x2="176.5" y2="561.6" stroke="#8f98c0" stroke-width="6"/><line x1="195.4" y1="548.7" x2="176.5" y2="561.6" stroke="#c3cae8" stroke-width="4.2"/><line x1="195.4" y1="548.7" x2="176.5" y2="561.6" stroke="#f2f4fc" stroke-width="1.38"/><line x1="214.3" y1="535.8" x2="234.35" y2="549.2" stroke="#6e4a2e" stroke-width="6"/><line x1="214.3" y1="535.8" x2="234.35" y2="549.2" stroke="#a47654" stroke-width="4.2"/><line x1="214.3" y1="535.8" x2="234.35" y2="549.2" stroke="#e8d2bc" stroke-width="1.38"/><line x1="234.35" y1="549.2" x2="254.4" y2="562.6" stroke="#8f98c0" stroke-width="6"/><line x1="234.35" y1="549.2" x2="254.4" y2="562.6" stroke="#c3cae8" stroke-width="4.2"/><line x1="234.35" y1="549.2" x2="254.4" y2="562.6" stroke="#f2f4fc" stroke-width="1.38"/><ellipse cx="142.2" cy="351" rx="9.2" ry="9.2" fill="url(#gN)"/><ellipse cx="138.5" cy="400.5" rx="9.6" ry="9.6" fill="url(#gC)"/><ellipse cx="97.6" cy="421.5" rx="9.2" ry="9.2" fill="url(#gN)"/><ellipse cx="179.5" cy="419.8" rx="9.2" ry="9.2" fill="url(#gN)"/><ellipse cx="96.8" cy="467" rx="9.6" ry="9.6" fill="url(#gC)"/><ellipse cx="179.5" cy="466" rx="9.6" ry="9.6" fill="url(#gC)"/><ellipse cx="138" cy="490.5" rx="9.2" ry="9.2" fill="url(#gN)"/><ellipse cx="57.2" cy="491.2" rx="9.2" ry="9.2" fill="url(#gN)"/><ellipse cx="218" cy="489.3" rx="9.2" ry="9.2" fill="url(#gN)"/><ellipse cx="60.9" cy="538" rx="9.6" ry="9.6" fill="url(#gC)"/><ellipse cx="137.6" cy="539" rx="9.6" ry="9.6" fill="url(#gC)"/><ellipse cx="214.3" cy="535.8" rx="9.6" ry="9.6" fill="url(#gC)"/><ellipse cx="15.8" cy="560.6" rx="9.2" ry="9.2" fill="url(#gN)"/><ellipse cx="97.4" cy="562.6" rx="9.2" ry="9.2" fill="url(#gN)"/><ellipse cx="176.5" cy="561.6" rx="9.2" ry="9.2" fill="url(#gN)"/><ellipse cx="254.4" cy="562.6" rx="9.2" ry="9.2" fill="url(#gN)"/>
<rect x="17.4" y="369.3" width="56.4" height="30" fill="#fff" stroke="#222" stroke-width="1.4"/>
<text x="24.6" y="391.1" font-size="18" fill="#111" text-anchor="start" >C<tspan font-size="12" dy="4.5">3</tspan><tspan dy="-4.5">N</tspan><tspan font-size="12" dy="4.5">4</tspan></text>
<text x="65.53" y="594.3" font-size="18.43" fill="#111" text-anchor="start" >No dipole moment</text>
<polygon points="264,452.6 311,452.6 311,447.2 336.8,459.4 311,471.9 311,466.6 264,466.6" fill="url(#gBig)"/>
<line x1="445" y1="349.5" x2="445.6" y2="374.75" stroke="#98a2c8" stroke-width="7"/><line x1="445" y1="349.5" x2="445.6" y2="374.75" stroke="#b9c1de" stroke-width="4.9"/><line x1="445" y1="349.5" x2="445.6" y2="374.75" stroke="#d4daee" stroke-width="1.61"/><line x1="445.6" y1="374.75" x2="446.2" y2="400" stroke="#6e4a2e" stroke-width="7"/><line x1="445.6" y1="374.75" x2="446.2" y2="400" stroke="#946848" stroke-width="4.9"/><line x1="445.6" y1="374.75" x2="446.2" y2="400" stroke="#b88c6a" stroke-width="1.61"/><line x1="446.2" y1="400" x2="426.5" y2="408.5" stroke="#6e4a2e" stroke-width="7"/><line x1="446.2" y1="400" x2="426.5" y2="408.5" stroke="#946848" stroke-width="4.9"/><line x1="446.2" y1="400" x2="426.5" y2="408.5" stroke="#b88c6a" stroke-width="1.61"/><line x1="426.5" y1="408.5" x2="406.8" y2="417" stroke="#98a2c8" stroke-width="7"/><line x1="426.5" y1="408.5" x2="406.8" y2="417" stroke="#b9c1de" stroke-width="4.9"/><line x1="426.5" y1="408.5" x2="406.8" y2="417" stroke="#d4daee" stroke-width="1.61"/><line x1="446.2" y1="400" x2="467.1" y2="408.5" stroke="#6e4a2e" stroke-width="7"/><line x1="446.2" y1="400" x2="467.1" y2="408.5" stroke="#946848" stroke-width="4.9"/><line x1="446.2" y1="400" x2="467.1" y2="408.5" stroke="#b88c6a" stroke-width="1.61"/><line x1="467.1" y1="408.5" x2="488" y2="417" stroke="#98a2c8" stroke-width="7"/><line x1="467.1" y1="408.5" x2="488" y2="417" stroke="#b9c1de" stroke-width="4.9"/><line x1="467.1" y1="408.5" x2="488" y2="417" stroke="#d4daee" stroke-width="1.61"/><line x1="406.8" y1="417" x2="404.8" y2="440.65" stroke="#98a2c8" stroke-width="7"/><line x1="406.8" y1="417" x2="404.8" y2="440.65" stroke="#b9c1de" stroke-width="4.9"/><line x1="406.8" y1="417" x2="404.8" y2="440.65" stroke="#d4daee" stroke-width="1.61"/><line x1="404.8" y1="440.65" x2="402.8" y2="464.3" stroke="#6e4a2e" stroke-width="7"/><line x1="404.8" y1="440.65" x2="402.8" y2="464.3" stroke="#946848" stroke-width="4.9"/><line x1="404.8" y1="440.65" x2="402.8" y2="464.3" stroke="#b88c6a" stroke-width="1.61"/><line x1="488" y1="417" x2="488.6" y2="440.65" stroke="#98a2c8" stroke-width="7"/><line x1="488" y1="417" x2="488.6" y2="440.65" stroke="#b9c1de" stroke-width="4.9"/><line x1="488" y1="417" x2="488.6" y2="440.65" stroke="#d4daee" stroke-width="1.61"/><line x1="488.6" y1="440.65" x2="489.2" y2="464.3" stroke="#6e4a2e" stroke-width="7"/><line x1="488.6" y1="440.65" x2="489.2" y2="464.3" stroke="#946848" stroke-width="4.9"/><line x1="488.6" y1="440.65" x2="489.2" y2="464.3" stroke="#b88c6a" stroke-width="1.61"/><line x1="402.8" y1="464.3" x2="423.85" y2="475.15" stroke="#6e4a2e" stroke-width="7"/><line x1="402.8" y1="464.3" x2="423.85" y2="475.15" stroke="#946848" stroke-width="4.9"/><line x1="402.8" y1="464.3" x2="423.85" y2="475.15" stroke="#b88c6a" stroke-width="1.61"/><line x1="423.85" y1="475.15" x2="444.9" y2="486" stroke="#98a2c8" stroke-width="7"/><line x1="423.85" y1="475.15" x2="444.9" y2="486" stroke="#b9c1de" stroke-width="4.9"/><line x1="423.85" y1="475.15" x2="444.9" y2="486" stroke="#d4daee" stroke-width="1.61"/><line x1="489.2" y1="464.3" x2="467.05" y2="475.15" stroke="#6e4a2e" stroke-width="7"/><line x1="489.2" y1="464.3" x2="467.05" y2="475.15" stroke="#946848" stroke-width="4.9"/><line x1="489.2" y1="464.3" x2="467.05" y2="475.15" stroke="#b88c6a" stroke-width="1.61"/><line x1="467.05" y1="475.15" x2="444.9" y2="486" stroke="#98a2c8" stroke-width="7"/><line x1="467.05" y1="475.15" x2="444.9" y2="486" stroke="#b9c1de" stroke-width="4.9"/><line x1="467.05" y1="475.15" x2="444.9" y2="486" stroke="#d4daee" stroke-width="1.61"/><line x1="402.8" y1="464.3" x2="383.9" y2="478.95" stroke="#6e4a2e" stroke-width="7"/><line x1="402.8" y1="464.3" x2="383.9" y2="478.95" stroke="#946848" stroke-width="4.9"/><line x1="402.8" y1="464.3" x2="383.9" y2="478.95" stroke="#b88c6a" stroke-width="1.61"/><line x1="383.9" y1="478.95" x2="365" y2="493.6" stroke="#98a2c8" stroke-width="7"/><line x1="383.9" y1="478.95" x2="365" y2="493.6" stroke="#b9c1de" stroke-width="4.9"/><line x1="383.9" y1="478.95" x2="365" y2="493.6" stroke="#d4daee" stroke-width="1.61"/><line x1="489.2" y1="464.3" x2="509.3" y2="478.3" stroke="#6e4a2e" stroke-width="7"/><line x1="489.2" y1="464.3" x2="509.3" y2="478.3" stroke="#946848" stroke-width="4.9"/><line x1="489.2" y1="464.3" x2="509.3" y2="478.3" stroke="#b88c6a" stroke-width="1.61"/><line x1="509.3" y1="478.3" x2="529.4" y2="492.3" stroke="#98a2c8" stroke-width="7"/><line x1="509.3" y1="478.3" x2="529.4" y2="492.3" stroke="#b9c1de" stroke-width="4.9"/><line x1="509.3" y1="478.3" x2="529.4" y2="492.3" stroke="#d4daee" stroke-width="1.61"/><line x1="365" y1="493.6" x2="372.95" y2="514.3" stroke="#98a2c8" stroke-width="7"/><line x1="365" y1="493.6" x2="372.95" y2="514.3" stroke="#b9c1de" stroke-width="4.9"/><line x1="365" y1="493.6" x2="372.95" y2="514.3" stroke="#d4daee" stroke-width="1.61"/><line x1="372.95" y1="514.3" x2="380.9" y2="535" stroke="#98a2c8" stroke-width="7"/><line x1="372.95" y1="514.3" x2="380.9" y2="535" stroke="#b9c1de" stroke-width="4.9"/><line x1="372.95" y1="514.3" x2="380.9" y2="535" stroke="#d4daee" stroke-width="1.61"/><line x1="380.9" y1="535" x2="407.05" y2="533.15" stroke="#98a2c8" stroke-width="7"/><line x1="380.9" y1="535" x2="407.05" y2="533.15" stroke="#b9c1de" stroke-width="4.9"/><line x1="380.9" y1="535" x2="407.05" y2="533.15" stroke="#d4daee" stroke-width="1.61"/><line x1="407.05" y1="533.15" x2="433.2" y2="531.3" stroke="#6e4a2e" stroke-width="7"/><line x1="407.05" y1="533.15" x2="433.2" y2="531.3" stroke="#946848" stroke-width="4.9"/><line x1="407.05" y1="533.15" x2="433.2" y2="531.3" stroke="#b88c6a" stroke-width="1.61"/><line x1="380.9" y1="535" x2="358.95" y2="548.35" stroke="#98a2c8" stroke-width="7"/><line x1="380.9" y1="535" x2="358.95" y2="548.35" stroke="#b9c1de" stroke-width="4.9"/><line x1="380.9" y1="535" x2="358.95" y2="548.35" stroke="#d4daee" stroke-width="1.61"/><line x1="358.95" y1="548.35" x2="337" y2="561.7" stroke="#98a2c8" stroke-width="7"/><line x1="358.95" y1="548.35" x2="337" y2="561.7" stroke="#b9c1de" stroke-width="4.9"/><line x1="358.95" y1="548.35" x2="337" y2="561.7" stroke="#d4daee" stroke-width="1.61"/><line x1="444.9" y1="486" x2="439.05" y2="508.65" stroke="#98a2c8" stroke-width="7"/><line x1="444.9" y1="486" x2="439.05" y2="508.65" stroke="#b9c1de" stroke-width="4.9"/><line x1="444.9" y1="486" x2="439.05" y2="508.65" stroke="#d4daee" stroke-width="1.61"/><line x1="439.05" y1="508.65" x2="433.2" y2="531.3" stroke="#6e4a2e" stroke-width="7"/><line x1="439.05" y1="508.65" x2="433.2" y2="531.3" stroke="#946848" stroke-width="4.9"/><line x1="439.05" y1="508.65" x2="433.2" y2="531.3" stroke="#b88c6a" stroke-width="1.61"/><line x1="433.2" y1="531.3" x2="453.3" y2="545.3" stroke="#6e4a2e" stroke-width="7"/><line x1="433.2" y1="531.3" x2="453.3" y2="545.3" stroke="#946848" stroke-width="4.9"/><line x1="433.2" y1="531.3" x2="453.3" y2="545.3" stroke="#b88c6a" stroke-width="1.61"/><line x1="453.3" y1="545.3" x2="473.4" y2="559.3" stroke="#98a2c8" stroke-width="7"/><line x1="453.3" y1="545.3" x2="473.4" y2="559.3" stroke="#b9c1de" stroke-width="4.9"/><line x1="453.3" y1="545.3" x2="473.4" y2="559.3" stroke="#d4daee" stroke-width="1.61"/><line x1="473.4" y1="559.3" x2="497.15" y2="548.35" stroke="#98a2c8" stroke-width="7"/><line x1="473.4" y1="559.3" x2="497.15" y2="548.35" stroke="#b9c1de" stroke-width="4.9"/><line x1="473.4" y1="559.3" x2="497.15" y2="548.35" stroke="#d4daee" stroke-width="1.61"/><line x1="497.15" y1="548.35" x2="520.9" y2="537.4" stroke="#6e4a2e" stroke-width="7"/><line x1="497.15" y1="548.35" x2="520.9" y2="537.4" stroke="#946848" stroke-width="4.9"/><line x1="497.15" y1="548.35" x2="520.9" y2="537.4" stroke="#b88c6a" stroke-width="1.61"/><line x1="529.4" y1="492.3" x2="525.15" y2="514.85" stroke="#98a2c8" stroke-width="7"/><line x1="529.4" y1="492.3" x2="525.15" y2="514.85" stroke="#b9c1de" stroke-width="4.9"/><line x1="529.4" y1="492.3" x2="525.15" y2="514.85" stroke="#d4daee" stroke-width="1.61"/><line x1="525.15" y1="514.85" x2="520.9" y2="537.4" stroke="#6e4a2e" stroke-width="7"/><line x1="525.15" y1="514.85" x2="520.9" y2="537.4" stroke="#946848" stroke-width="4.9"/><line x1="525.15" y1="514.85" x2="520.9" y2="537.4" stroke="#b88c6a" stroke-width="1.61"/><line x1="520.9" y1="537.4" x2="544" y2="549.55" stroke="#6e4a2e" stroke-width="7"/><line x1="520.9" y1="537.4" x2="544" y2="549.55" stroke="#946848" stroke-width="4.9"/><line x1="520.9" y1="537.4" x2="544" y2="549.55" stroke="#b88c6a" stroke-width="1.61"/><line x1="544" y1="549.55" x2="567.1" y2="561.7" stroke="#98a2c8" stroke-width="7"/><line x1="544" y1="549.55" x2="567.1" y2="561.7" stroke="#b9c1de" stroke-width="4.9"/><line x1="544" y1="549.55" x2="567.1" y2="561.7" stroke="#d4daee" stroke-width="1.61"/><ellipse cx="445" cy="349.5" rx="11.6" ry="9.7" fill="url(#gN)"/><ellipse cx="446.2" cy="400" rx="12" ry="10" fill="url(#gC)"/><ellipse cx="406.8" cy="417" rx="11.6" ry="9.7" fill="url(#gN)"/><ellipse cx="488" cy="417" rx="11.6" ry="9.7" fill="url(#gN)"/><ellipse cx="402.8" cy="464.3" rx="12" ry="10" fill="url(#gC)"/><ellipse cx="489.2" cy="464.3" rx="12" ry="10" fill="url(#gC)"/><ellipse cx="444.9" cy="486" rx="11.6" ry="9.7" fill="url(#gN)"/><ellipse cx="365" cy="493.6" rx="11.6" ry="9.7" fill="url(#gN)"/><ellipse cx="529.4" cy="492.3" rx="11.6" ry="9.7" fill="url(#gN)"/><ellipse cx="380.9" cy="535" rx="11.6" ry="9.7" fill="url(#gN)"/><ellipse cx="433.2" cy="531.3" rx="12" ry="10" fill="url(#gC)"/><ellipse cx="520.9" cy="537.4" rx="12" ry="10" fill="url(#gC)"/><ellipse cx="337" cy="561.7" rx="11.6" ry="9.7" fill="url(#gN)"/><ellipse cx="473.4" cy="559.3" rx="11.6" ry="9.7" fill="url(#gN)"/><ellipse cx="567.1" cy="561.7" rx="11.6" ry="9.7" fill="url(#gN)"/>
<ellipse cx="445" cy="484" rx="27" ry="26" fill="url(#gGlowB)"/>
<ellipse cx="466" cy="581" rx="26" ry="23" fill="url(#gGlowO)"/>
<path d="M447,495 L465.5,568" stroke="url(#gArr)" stroke-width="1.5"/><path d="M458.5,562 L465.8,570 L469.5,560" stroke="#f0401a" stroke-width="1.6" fill="none"/>
<circle cx="445.5" cy="485.6" r="9.3" fill="#fff" stroke="#18b4ea" stroke-width="2.2"/>
<line x1="443" y1="486" x2="448" y2="486" stroke="#111" stroke-width="1.8"/>
<circle cx="467.7" cy="583.1" r="9.4" fill="#f2707a" stroke="#111" stroke-width="1.7"/>
<path d="M462.7,583.1 L472.7,583.1 M467.7,578.1 L467.7,588.1" stroke="#111" stroke-width="1.4"/>
<rect x="322.4" y="367" width="56.4" height="29.9" fill="#fff" stroke="#222" stroke-width="1.4"/>
<text x="330" y="388.8" font-size="18" fill="#111" text-anchor="start" >C<tspan font-size="12" dy="4.5">3</tspan><tspan dy="-4.5">N</tspan><tspan font-size="12" dy="4.5">5</tspan></text>
<ellipse cx="24.9" cy="619.2" rx="6.8" ry="7.5" fill="url(#gC)"/>
<text x="40" y="625.5" font-size="16.5" fill="#111" text-anchor="start" >C</text>
<ellipse cx="88.7" cy="619.2" rx="6.8" ry="7.5" fill="url(#gN)"/>
<text x="105.5" y="625.5" font-size="16.5" fill="#111" text-anchor="start" >N</text>
<circle cx="223.2" cy="618.7" r="10.2" fill="#f27575" stroke="#111" stroke-width="1.3"/>
<path d="M218,618.7 L228.4,618.7 M223.2,613.5 L223.2,623.9" stroke="#111" stroke-width="1.3"/>
<circle cx="252.1" cy="618.7" r="10.2" fill="#fff" stroke="#18b4e8" stroke-width="1.8"/>
<line x1="249.5" y1="619" x2="254.7" y2="619" stroke="#111" stroke-width="1.5"/>
<text x="279.53" y="626" font-size="18.39" fill="#111" text-anchor="start" >Positive and negative charge center</text>
<text x="592.15" y="344" font-size="26.17" fill="#000" text-anchor="start" >e</text>
<text x="755.13" y="342.7" font-size="21.5" fill="#111" text-anchor="start" >Structural units (n)</text>
<rect x="630.3" y="384.2" width="424.9" height="66.4" fill="#0000ff"/>
<rect x="630.3" y="481.5" width="112.7" height="67" fill="#3333ff"/>
<rect x="743" y="481.5" width="142.5" height="67" fill="#ffd5d5"/>
<rect x="885.5" y="481.5" width="169.7" height="67" fill="#ff1414"/>
<path d="M743,369 L743,563 M885.5,369 L885.5,563 M631,466.4 L1054,466.4" stroke="#c8c8c8" stroke-width="1.2"/>
<rect x="630.3" y="368.5" width="424.9" height="195" fill="none" stroke="#000" stroke-width="1.8"/>
<line x1="687" y1="362.5" x2="687" y2="368.5" stroke="#000" stroke-width="1.5"/>
<text x="687" y="359.3" font-size="17.3" fill="#111" text-anchor="middle" >1</text>
<line x1="800.2" y1="362.5" x2="800.2" y2="368.5" stroke="#000" stroke-width="1.5"/>
<text x="800.2" y="359.3" font-size="17.3" fill="#111" text-anchor="middle" >3</text>
<line x1="969.9" y1="362.5" x2="969.9" y2="368.5" stroke="#000" stroke-width="1.5"/>
<text x="969.9" y="359.3" font-size="17.3" fill="#111" text-anchor="middle" >6</text>
<path d="M624.8,417 L630,417 M624.8,514.6 L630,514.6" stroke="#000" stroke-width="1.5"/>
<g transform="translate(618.6,418) rotate(-90)"><text x="0" y="0" font-size="22" fill="#111" text-anchor="middle" >C<tspan font-size="14" dy="5">3</tspan><tspan dy="-5">N</tspan><tspan font-size="14" dy="5">4</tspan></text></g>
<g transform="translate(618.6,518) rotate(-90)"><text x="0" y="0" font-size="22" fill="#111" text-anchor="middle" >C<tspan font-size="14" dy="5">3</tspan><tspan dy="-5">N</tspan><tspan font-size="14" dy="5">5</tspan></text></g>
<text x="686.7" y="424" font-size="18" fill="#111" text-anchor="middle" >0.00</text>
<text x="814" y="424" font-size="18" fill="#111" text-anchor="middle" >0.00</text>
<text x="970.2" y="424" font-size="18" fill="#111" text-anchor="middle" >0.00</text>
<text x="686.7" y="522" font-size="18" fill="#111" text-anchor="middle" >2.80</text>
<text x="814" y="522" font-size="18" fill="#111" text-anchor="middle" >13.14</text>
<text x="970.2" y="522" font-size="18" fill="#111" text-anchor="middle" >22.22</text>
<rect x="630" y="574.6" width="14.47" height="15.9" fill="#0808ff"/>
<rect x="644.17" y="574.6" width="14.47" height="15.9" fill="#1a1aff"/>
<rect x="658.33" y="574.6" width="14.47" height="15.9" fill="#2a2aff"/>
<rect x="672.5" y="574.6" width="14.47" height="15.9" fill="#3c3cff"/>
<rect x="686.67" y="574.6" width="14.47" height="15.9" fill="#4c4cff"/>
<rect x="700.83" y="574.6" width="14.47" height="15.9" fill="#5e5eff"/>
<rect x="715" y="574.6" width="14.47" height="15.9" fill="#6e6eff"/>
<rect x="729.17" y="574.6" width="14.47" height="15.9" fill="#8080ff"/>
<rect x="743.33" y="574.6" width="14.47" height="15.9" fill="#9090ff"/>
<rect x="757.5" y="574.6" width="14.47" height="15.9" fill="#a2a2ff"/>
<rect x="771.67" y="574.6" width="14.47" height="15.9" fill="#b2b2ff"/>
<rect x="785.83" y="574.6" width="14.47" height="15.9" fill="#c4c4ff"/>
<rect x="800" y="574.6" width="14.47" height="15.9" fill="#d4d4ff"/>
<rect x="814.17" y="574.6" width="14.47" height="15.9" fill="#e6e6ff"/>
<rect x="828.33" y="574.6" width="14.47" height="15.9" fill="#f6f6ff"/>
<rect x="842.5" y="574.6" width="14.47" height="15.9" fill="#fff6f6"/>
<rect x="856.67" y="574.6" width="14.47" height="15.9" fill="#ffe5e5"/>
<rect x="870.83" y="574.6" width="14.47" height="15.9" fill="#ffd4d4"/>
<rect x="885" y="574.6" width="14.47" height="15.9" fill="#ffc3c3"/>
<rect x="899.17" y="574.6" width="14.47" height="15.9" fill="#ffb2b2"/>
<rect x="913.33" y="574.6" width="14.47" height="15.9" fill="#ffa2a2"/>
<rect x="927.5" y="574.6" width="14.47" height="15.9" fill="#ff9090"/>
<rect x="941.67" y="574.6" width="14.47" height="15.9" fill="#ff8080"/>
<rect x="955.83" y="574.6" width="14.47" height="15.9" fill="#ff6e6e"/>
<rect x="970" y="574.6" width="14.47" height="15.9" fill="#ff5e5e"/>
<rect x="984.17" y="574.6" width="14.47" height="15.9" fill="#ff4d4d"/>
<rect x="998.33" y="574.6" width="14.47" height="15.9" fill="#ff3c3c"/>
<rect x="1012.5" y="574.6" width="14.47" height="15.9" fill="#ff2b2b"/>
<rect x="1026.67" y="574.6" width="14.47" height="15.9" fill="#ff1a1a"/>
<rect x="1040.83" y="574.6" width="14.47" height="15.9" fill="#ff0909"/>
<rect x="630" y="574.6" width="425" height="15.9" fill="none" stroke="#000" stroke-width="1.6"/>
<line x1="630" y1="590.5" x2="630" y2="595" stroke="#000" stroke-width="1.5"/>
<text x="630" y="614.5" font-size="17.7" fill="#111" text-anchor="middle" >0.00</text>
<line x1="715" y1="590.5" x2="715" y2="595" stroke="#000" stroke-width="1.5"/>
<text x="715" y="614.5" font-size="17.7" fill="#111" text-anchor="middle" >4.60</text>
<line x1="800" y1="590.5" x2="800" y2="595" stroke="#000" stroke-width="1.5"/>
<text x="800" y="614.5" font-size="17.7" fill="#111" text-anchor="middle" >9.20</text>
<line x1="885" y1="590.5" x2="885" y2="595" stroke="#000" stroke-width="1.5"/>
<text x="885" y="614.5" font-size="17.7" fill="#111" text-anchor="middle" >13.8</text>
<line x1="970" y1="590.5" x2="970" y2="595" stroke="#000" stroke-width="1.5"/>
<text x="970" y="614.5" font-size="17.7" fill="#111" text-anchor="middle" >18.4</text>
<line x1="1055" y1="590.5" x2="1055" y2="595" stroke="#000" stroke-width="1.5"/>
<text x="1055" y="614.5" font-size="17.7" fill="#111" text-anchor="middle" >23.0</text>
<text x="751.85" y="635" font-size="21.88" fill="#111" text-anchor="start" >Dipole moment (D)</text>
</svg></body></html>
